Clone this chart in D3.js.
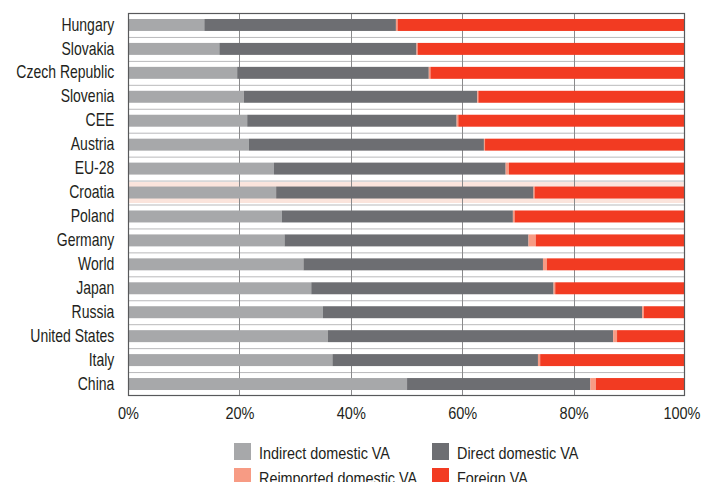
<!DOCTYPE html>
<html>
<head>
<meta charset="utf-8">
<script src="https://cdn.jsdelivr.net/npm/d3@7"></script>
<style>
  html, body { margin: 0; padding: 0; background: #fff; }
  svg { display: block; }
  text { font-family: "Liberation Sans", Arial, sans-serif; }
</style>
</head>
<body>
<svg id="chart" width="702" height="482"></svg>
<script>
const categories = ["Hungary","Slovakia","Czech Republic","Slovenia","CEE","Austria","EU-28","Croatia","Poland","Germany","World","Japan","Russia","United States","Italy","China"];
const indirectVA   = [13.7, 16.4, 19.6, 20.8, 21.4, 21.7, 26.2, 26.6, 27.6, 28.1, 31.5, 32.9, 35.0, 35.9, 36.7, 50.1];
const directVA     = [34.4, 35.4, 34.4, 41.9, 37.6, 42.2, 41.6, 46.2, 41.5, 43.8, 43.0, 43.5, 57.3, 51.2, 36.9, 32.9];
const reimportedVA = [0.3, 0.2, 0.3, 0.2, 0.3, 0.2, 0.6, 0.2, 0.3, 1.3, 0.7, 0.3, 0.3, 0.7, 0.4, 1.0];
const foreignVA    = categories.map((c, i) => +(100 - indirectVA[i] - directVA[i] - reimportedVA[i]).toFixed(1));
const xTicks = [0, 20, 40, 60, 80, 100];
const seriesNames = ["Indirect domestic VA", "Direct domestic VA", "Reimported domestic VA", "Foreign VA"];
const colors = ["#a7a8aa", "#6d6e72", "#f79b84", "#f23b22"];
const highlight = "Croatia";

const svg = d3.select("#chart");
const margin = {left: 128, right: 17, top: 13, bottom: 86};
const W = 702, H = 482;
const x = d3.scaleLinear().domain([0, 100]).range([margin.left, W - margin.right]);
const y = d3.scaleBand().domain(categories).range([margin.top, H - margin.bottom]).paddingInner(0.5).paddingOuter(0.25);
const yRow = d3.scaleBand().domain(categories).range([margin.top, H - margin.bottom]);

const rows = categories.map((c, i) => ({cat: c, vals: [indirectVA[i], directVA[i], reimportedVA[i], foreignVA[i]]}));
const stack = d3.stack().keys([0,1,2,3]).value((d, k) => d.vals[k]);
const series = stack(rows);

// highlight band
svg.append("rect")
  .attr("x", x(0)).attr("width", x(100) - x(0))
  .attr("y", yRow(highlight) + 1.5).attr("height", yRow.bandwidth() - 3)
  .attr("fill", "#fbe4dc");

// horizontal separators
svg.append("g").selectAll("line").data(categories.slice(1)).join("line")
  .attr("x1", x(0)).attr("x2", x(100))
  .attr("y1", d => yRow(d) + 0.5).attr("y2", d => yRow(d) + 0.5)
  .attr("stroke", "#b9b9bb").attr("stroke-width", 1);

// vertical gridlines
svg.append("g").selectAll("line").data(xTicks.slice(1, -1)).join("line")
  .attr("x1", d => Math.round(x(d)) + 0.5).attr("x2", d => Math.round(x(d)) + 0.5)
  .attr("y1", margin.top).attr("y2", H - margin.bottom)
  .attr("stroke", "#8a8a8c").attr("stroke-width", 1);

// bars
svg.append("g").selectAll("g").data(series).join("g")
  .attr("fill", (d, i) => colors[i])
  .selectAll("rect").data(d => d).join("rect")
  .attr("x", d => x(d[0]))
  .attr("width", d => x(d[1]) - x(d[0]))
  .attr("y", d => y(d.data.cat))
  .attr("height", y.bandwidth());

// frame
svg.append("rect")
  .attr("x", x(0) + 0.5).attr("y", margin.top + 0.5)
  .attr("width", x(100) - x(0) - 1).attr("height", H - margin.bottom - margin.top - 1)
  .attr("fill", "none").attr("stroke", "#58595b").attr("stroke-width", 1.2);

// y axis labels (condensed via horizontal scaling)
const sY = 0.8;
const yAxis = d3.axisLeft(yRow).tickSize(0).tickPadding(0);
const yg = svg.append("g").attr("transform", `translate(${x(0)},0)`).call(yAxis);
yg.select(".domain").remove();
yg.selectAll("text")
  .attr("font-size", 17.5).attr("fill", "#231f20")
  .attr("font-family", '"Liberation Sans", Arial, sans-serif')
  .attr("x", -13.7 / sY)
  .attr("transform", `scale(${sY},1)`);

// x axis labels
const sX = 0.88;
const xAxis = d3.axisBottom(x).tickValues(xTicks).tickFormat(d => d + "%").tickSize(0).tickPadding(11);
const xg = svg.append("g").attr("transform", `translate(0,${H - margin.bottom})`).call(xAxis);
xg.select(".domain").remove();
xg.selectAll("text")
  .attr("font-size", 16.5).attr("fill", "#231f20")
  .attr("font-family", '"Liberation Sans", Arial, sans-serif')
  .attr("transform", `scale(${sX},1)`);
// keep the last label inside the picture, as in the reference
xg.selectAll("text").filter(d => d === 100)
  .attr("text-anchor", "end").attr("x", (W - 2 - x(100)) / sX);

// legend
const sL = 0.9;
const legendPos = [[234, 443], [432, 443], [234, 468], [432, 468]];
const lg = svg.append("g");
seriesNames.forEach((name, i) => {
  const [lx, ly] = legendPos[i];
  lg.append("rect").attr("x", lx).attr("y", ly).attr("width", 17).attr("height", 17).attr("fill", colors[i]);
  lg.append("text")
    .attr("x", (lx + 25) / sL).attr("y", ly + 16)
    .attr("transform", `scale(${sL},1)`)
    .attr("font-size", 16).attr("fill", "#231f20").text(name);
});
</script>
</body>
</html>
